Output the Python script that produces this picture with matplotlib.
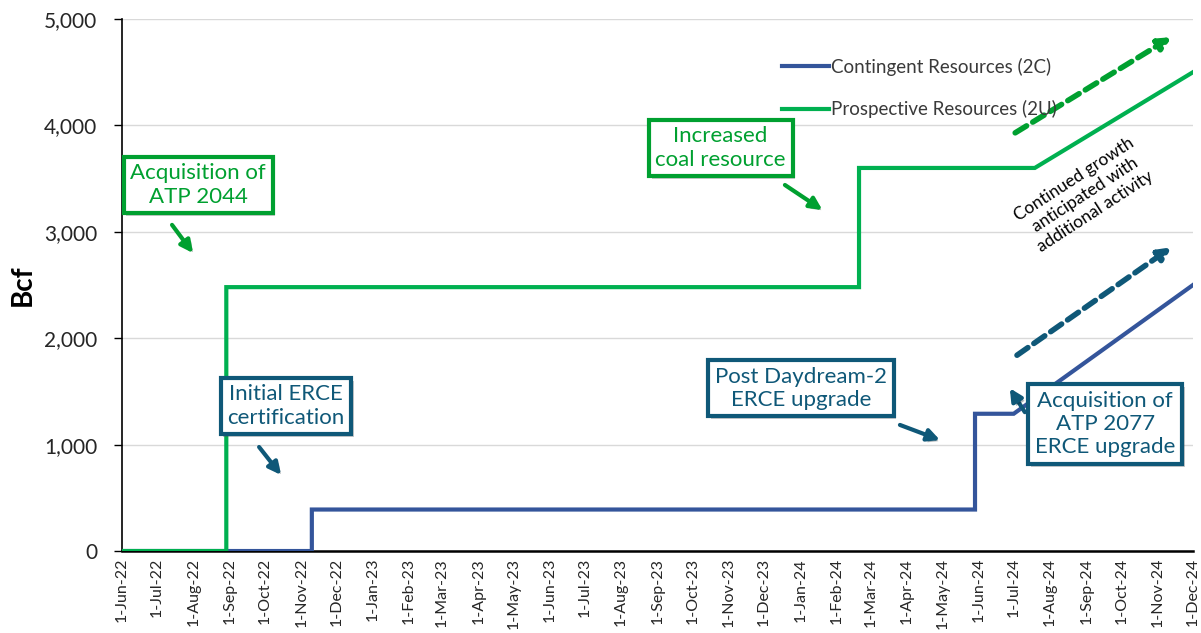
"""Zasoby warunkowe (2C) i perspektywiczne (2U) w czasie, Bcf."""

import matplotlib
matplotlib.use("Agg")
import matplotlib.pyplot as plt
import matplotlib.patheffects as pe
import pandas as pd

plt.rcParams["font.family"] = ["Lato", "DejaVu Sans"]

BLUE = "#34559B"
GREEN = "#00B050"
GREEN_NOTE = "#00A030"
TEAL = "#0F5878"
GRID = "#D9D9D9"

# dane
CONT_DATES = ["2022-06-01", "2022-11-10", "2022-11-10", "2024-05-29",
              "2024-05-29", "2024-07-01", "2024-12-01"]
CONT_VALUES = [0, 0, 390, 390, 1290, 1290, 2500]
PROS_DATES = ["2022-06-01", "2022-08-29", "2022-08-29", "2024-02-20",
              "2024-02-20", "2024-07-19", "2024-12-01"]
PROS_VALUES = [0, 0, 2480, 2480, 3600, 3600, 4500]
SERIES_NAMES = ["Contingent Resources (2C)", "Prospective Resources (2U)"]
Y_TICKS = [0, 1000, 2000, 3000, 4000, 5000]
MONTHS = pd.date_range("2022-06-01", "2024-12-01", freq="MS")
X_LABELS = [f"{d.day}-{d.strftime('%b-%y')}" for d in MONTHS]

fig = plt.figure(figsize=(12.01, 6.33), dpi=100)
ax = fig.add_axes([0.1016, 0.1295, 0.8917, 0.8405])

ax.plot(pd.to_datetime(CONT_DATES), CONT_VALUES, color=BLUE, lw=3,
        solid_joinstyle="miter", label=SERIES_NAMES[0], zorder=3)
ax.plot(pd.to_datetime(PROS_DATES), PROS_VALUES, color=GREEN, lw=3,
        solid_joinstyle="miter", label=SERIES_NAMES[1], zorder=4)

ax.set_xlim(MONTHS[0], MONTHS[-1])
ax.set_ylim(0, 5000)
ax.set_yticks(Y_TICKS)
ax.set_yticklabels([f"{v:,}" for v in Y_TICKS], fontsize=15, color="#262626")
ax.set_xticks(MONTHS)
ax.set_xticklabels(X_LABELS, rotation=90, fontsize=11.5, color="#262626")
ax.tick_params(axis="x", length=0, pad=5)
ax.tick_params(axis="y", length=6, width=1, direction="out", pad=12)
ax.yaxis.grid(True, color=GRID, lw=1)
ax.set_axisbelow(True)
for s in ("top", "right"):
    ax.spines[s].set_visible(False)
ax.spines["left"].set_linewidth(1.2)
ax.spines["bottom"].set_linewidth(1.8)
ax.set_ylabel("Bcf", fontsize=20, fontweight="bold")
ax.yaxis.set_label_coords(-0.081, 0.5)

ax.legend(loc="upper left", bbox_to_anchor=(0.6075, 0.945), frameon=False,
          fontsize=13.5, handlelength=2.5, handletextpad=0.1,
          labelspacing=1.3, borderpad=0, labelcolor="#3A3A3A")

shadow = [pe.SimplePatchShadow(offset=(2, -2), alpha=0.3), pe.Normal()]


def note(text, xy, color):
    t = ax.text(*xy, text, transform=ax.transAxes, ha="center", va="center",
                fontsize=16, color=color, linespacing=1.2, zorder=6,
                bbox=dict(boxstyle="square,pad=0.3", fc="white", ec=color,
                          lw=3))
    t.get_bbox_patch().set_path_effects(shadow)


def arrow(start, end, color, dashed=False):
    ax.annotate("", xy=end, xytext=start, xycoords="axes fraction",
                textcoords="axes fraction", zorder=5,
                arrowprops=dict(arrowstyle="-|>", color=color,
                                lw=4 if dashed else 3,
                                ls=(0, (2.4, 1.3)) if dashed else "-",
                                mutation_scale=18, shrinkA=0, shrinkB=0,
                                path_effects=None if dashed else shadow))


note("Acquisition of\nATP 2044", (0.071, 0.688), GREEN_NOTE)
arrow((0.0467, 0.613), (0.0663, 0.560), GREEN_NOTE)
note("Increased\ncoal resource", (0.559, 0.7575), GREEN_NOTE)
arrow((0.619, 0.688), (0.654, 0.641), GREEN_NOTE)
note("Initial ERCE\ncertification", (0.153, 0.2726), TEAL)
arrow((0.128, 0.1955), (0.1485, 0.143), TEAL)
note("Post Daydream-2\nERCE upgrade", (0.634, 0.306), TEAL)
arrow((0.7264, 0.237), (0.7638, 0.2086), TEAL)
note("Acquisition of\nATP 2077\nERCE upgrade", (0.918, 0.2387), TEAL)
arrow((0.843, 0.261), (0.829, 0.306), TEAL)

arrow((0.834, 0.786), (0.980, 0.966), GREEN_NOTE, dashed=True)
arrow((0.8357, 0.368), (0.980, 0.571), TEAL, dashed=True)
ax.text(0.899, 0.669, "Continued growth\nanticipated with\nadditional activity",
        transform=ax.transAxes, ha="center", va="center", rotation=33,
        rotation_mode="anchor", fontsize=12.5, color="black", linespacing=1.25,
        zorder=6)

fig.savefig("out.png", dpi=100)
